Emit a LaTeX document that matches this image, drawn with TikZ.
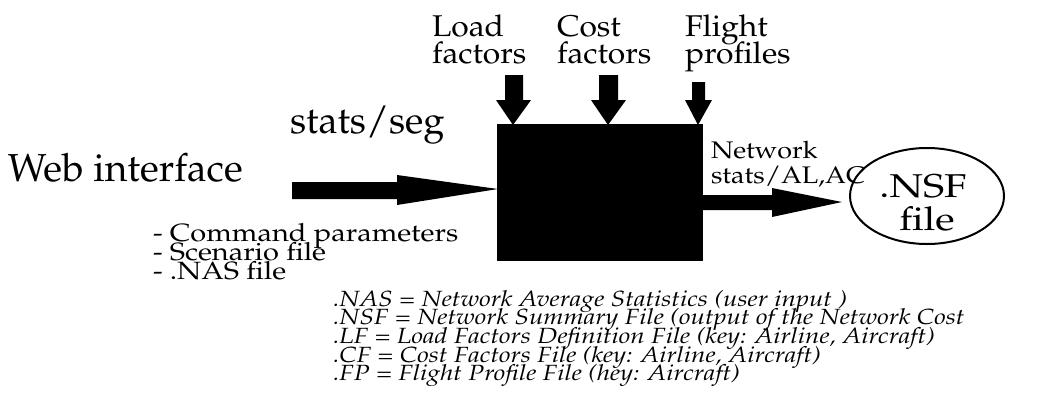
\documentclass[tikz,border=0pt]{standalone}
\usepackage[T1]{fontenc}
\usepackage{mathpazo}
\usepackage{graphicx}
\newcommand{\hstr}[2]{\scalebox{#1}[1]{#2}}
\tikzset{
  lbl/.style={anchor=base west, inner sep=0pt, outer sep=0pt},
  fat/.style={fill=black, draw=none},
  toplbl/.style={lbl, font=\fontsize{30}{30}\selectfont},
  listlbl/.style={lbl, font=\fontsize{25}{25}\selectfont},
  leglbl/.style={lbl, font=\fontsize{22}{22}\selectfont\itshape},
}
\begin{document}
\begin{tikzpicture}[x=1pt, y=-1pt]
\useasboundingbox (0,0) rectangle (1048,407);
% main box
\node[fill=black, minimum width=206pt, minimum height=137pt, inner sep=0pt] (box) at (600,192.5) {};
% labels on top
\node[toplbl] (load1) at (432,36) {\hstr{1.06}{Load}};
\node[toplbl] (load2) at (432,63) {\hstr{1.06}{factors}};
\node[toplbl] (cost1) at (557,36) {\hstr{1.06}{Cost}};
\node[toplbl] (cost2) at (557,63) {\hstr{1.06}{factors}};
\node[toplbl] (fl1) at (685,36) {\hstr{1.06}{Flight}};
\node[toplbl] (fl2) at (685,63) {\hstr{1.06}{profiles}};
% down arrows
\fill[fat] (505,75) -- (523,75) -- (523,100) -- (531,100) -- (513,125) -- (496,100) -- (505,100) -- cycle;
\fill[fat] (599,75) -- (618,75) -- (618,100) -- (626,100) -- (608,125) -- (591,100) -- (599,100) -- cycle;
\fill[fat] (692,82) -- (705,82) -- (705,100) -- (712,100) -- (698,125) -- (685,100) -- (692,100) -- cycle;
% left side
\node[lbl, font=\fontsize{39}{39}\selectfont] (web) at (8,181) {Web interface};
\node[lbl, font=\fontsize{38}{38}\selectfont] (seg) at (290,133) {stats/seg};
\fill[fat] (292,182) -- (397,182) -- (397,175) -- (498,189) -- (397,205) -- (397,199) -- (292,199) -- cycle;
\node[listlbl] (c1) at (153,241) {\hstr{1.16}{- Command parameters}};
\node[listlbl] (c2) at (153,260) {\hstr{1.16}{- Scenario file}};
\node[listlbl] (c3) at (153,279) {\hstr{1.16}{- .NAS file}};
% output
\node[lbl, font=\fontsize{24}{24}\selectfont] (n1) at (711,158) {\hstr{1.12}{Network}};
\node[lbl, font=\fontsize{24}{24}\selectfont] (n2) at (711,183) {\hstr{1.12}{stats/AL,AC}};
\fill[fat] (703,195) -- (772,195) -- (772,188) -- (842,202) -- (772,217) -- (772,210) -- (703,210) -- cycle;
\draw[line width=2pt] (927,196) ellipse [x radius=77, y radius=48];
\node[inner sep=0pt, anchor=base, font=\fontsize{33}{33}\selectfont] (nsf1) at (923,197) {\hstr{1.22}{.NSF}};
\node[inner sep=0pt, anchor=base, font=\fontsize{33}{33}\selectfont] (nsf2) at (927,230) {\hstr{1.22}{file}};
% legend
\node[leglbl] (l1) at (333,306) {\hstr{1.18}{.NAS = Network Average Statistics (user input )}};
\node[leglbl] (l2) at (333,324) {\hstr{1.18}{.NSF = Network Summary File (output of the Network Cost}};
\node[leglbl] (l3) at (333,343) {\hstr{1.18}{.LF = Load Factors Definition File (key: Airline, Aircraft)}};
\node[leglbl] (l4) at (333,362) {\hstr{1.18}{.CF = Cost Factors File (key: Airline, Aircraft)}};
\node[leglbl] (l5) at (333,380) {\hstr{1.18}{.FP = Flight Profile File (hey: Aircraft)}};
\end{tikzpicture}
\end{document}
